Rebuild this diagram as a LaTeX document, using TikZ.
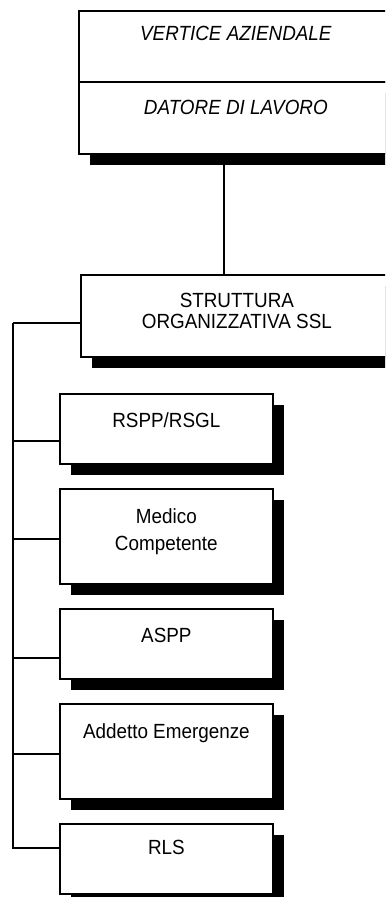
\documentclass[tikz,border=0pt]{standalone}
\usepackage{fontspec}
\setmainfont{Liberation Sans}[FakeStretch=0.92]
\usetikzlibrary{shadows}

\begin{document}
\begin{tikzpicture}[x=1bp, y=-1bp,
    box/.style={draw, line width=1.7bp, fill=white, anchor=north west, inner sep=0pt,
        minimum width=213bp, text height=14bp, align=center,
        font=\fontsize{20.5bp}{21bp}\selectfont},
    blackshadow/.style={drop shadow={shadow xshift=11bp, shadow yshift=-11bp, fill=black, opacity=1}},
    conn/.style={line width=1.7bp}]
    \useasboundingbox (0,0) rectangle (385,897);
    \clip (0,0) rectangle (385,897);
    % top block
    \node[box, minimum width=314bp, minimum height=72bp, text depth=20bp, blackshadow,
        font=\fontsize{20.5bp}{21bp}\selectfont\itshape] (datore) at (78,81) {DATORE DI LAVORO};
    \node[box, minimum width=314bp, minimum height=71bp, text depth=25bp,
        font=\fontsize{20.5bp}{21bp}\selectfont\itshape] (vertice) at (78,10) {VERTICE AZIENDALE};
    \node[box, minimum width=312bp, minimum height=82bp, text height=, text depth=10bp, blackshadow] (struttura) at (80,274) {STRUTTURA\\ORGANIZZATIVA SSL};
    % figure SSL
    \node[box, minimum height=70bp, text depth=16bp, blackshadow] (rspp) at (59,393) {RSPP/RSGL};
    \node[box, minimum height=95bp, text height=, text depth=14bp, blackshadow] (medico) at (59,488) {Medico\\[6bp]Competente};
    \node[box, minimum height=70bp, text depth=16bp, blackshadow] (aspp) at (59,608) {ASPP};
    \node[box, minimum height=95bp, text depth=40bp, blackshadow] (addetto) at (59,703) {Addetto Emergenze};
    \node[box, minimum height=70bp, text depth=22bp, blackshadow] (rls) at (59,823) {RLS};
    % connectors
    \coordinate (drop) at ([xshift=-12bp]datore.south);
    \draw[conn] (drop) -- (drop |- struttura.north);
    \draw[conn] ([yshift=-7bp]struttura.west) -- ++(-67,0) coordinate (spinetop);
    \draw[conn] ([yshift=-12bp]rspp.west) -| (spinetop);
    \draw[conn] ([yshift=-2.5bp]medico.west) -| (spinetop);
    \draw[conn] ([yshift=-14bp]aspp.west) -| (spinetop);
    \draw[conn] ([yshift=-2.5bp]addetto.west) -| (spinetop);
    \draw[conn] ([yshift=11bp]rls.west) -| (spinetop);
\end{tikzpicture}
\end{document}
